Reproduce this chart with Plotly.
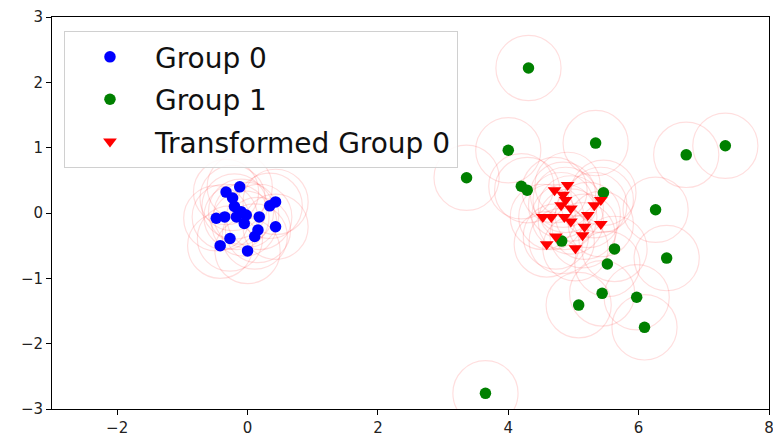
import plotly.graph_objects as go

# Group 0 (blue)
g0_x = [-0.12, -0.33, 0.43, 0.34, -0.20, -0.10, -0.48, -0.35, -0.17, -0.05,
        0.18, 0.43, 0.16, 0.11, -0.27, -0.42, 0.00, -0.02, -0.23]
g0_y = [0.40, 0.32, 0.17, 0.11, 0.10, 0.02, -0.08, -0.06, -0.06, -0.16,
        -0.06, -0.21, -0.26, -0.36, -0.39, -0.50, -0.58, -0.03, 0.23]

# Group 1 (green)
g1_x = [4.31, 5.34, 4.00, 3.36, 4.20, 4.29, 5.46, 6.73, 7.33, 6.26,
        4.82, 5.63, 5.52, 6.43, 5.44, 5.08, 5.97, 6.09, 3.65]
g1_y = [2.22, 1.07, 0.96, 0.54, 0.41, 0.35, 0.31, 0.89, 1.03, 0.05,
        -0.43, -0.55, -0.78, -0.69, -1.23, -1.41, -1.29, -1.75, -2.76]

# Transformed Group 0 (red)
t0_x = [4.91, 4.71, 4.84, 5.42, 5.32, 4.81, 4.96, 4.53, 4.66, 4.86,
        4.96, 5.22, 5.42, 5.17, 5.14, 4.73, 4.59, 5.03, 4.88]
t0_y = [0.43, 0.35, 0.28, 0.20, 0.12, 0.12, 0.07, -0.06, -0.06, -0.06,
        -0.13, -0.03, -0.17, -0.21, -0.34, -0.36, -0.48, -0.54, 0.20]

radius = 0.5

fig = go.Figure()
fig.add_trace(go.Scatter(x=g0_x, y=g0_y, mode="markers", name="Group 0", legendgroup="a",
                         marker=dict(color="#0000ff", size=11.5, symbol="circle")))
fig.add_trace(go.Scatter(x=g1_x, y=g1_y, mode="markers", name="Group 1", legendgroup="b",
                         marker=dict(color="#008000", size=11.5, symbol="circle")))
fig.add_trace(go.Scatter(x=t0_x, y=t0_y, mode="markers", name="Transformed Group 0", legendgroup="c",
                         marker=dict(color="#ff0000", size=12, symbol="triangle-down")))

shapes = []
for xs, ys in ((g0_x, g0_y), (g1_x, g1_y), (t0_x, t0_y)):
    for cx, cy in zip(xs, ys):
        shapes.append(dict(type="circle", xref="x", yref="y",
                           x0=cx - radius, x1=cx + radius,
                           y0=cy - radius, y1=cy + radius,
                           line=dict(color="rgba(255,0,0,0.13)", width=1.2),
                           layer="below"))

fig.update_layout(
    width=773, height=439,
    margin=dict(l=44, r=12, t=9, b=38, autoexpand=False),
    paper_bgcolor="white", plot_bgcolor="white",
    font=dict(family="DejaVu Sans", size=15, color="#222"),
    shapes=shapes,
    showlegend=True,
    legend=dict(x=0.0167, y=0.964, xanchor="left", yanchor="top",
                bgcolor="rgba(255,255,255,0.85)", bordercolor="#d0d0d0", borderwidth=1,
                font=dict(size=28, color="#111"), itemwidth=80,
                traceorder="grouped", tracegroupgap=3),
    xaxis=dict(range=[-3, 8], tickvals=[-2, 0, 2, 4, 6, 8], showgrid=False, zeroline=False,
               showline=True, linecolor="black", linewidth=1, mirror=True,
               ticks="outside", ticklen=5, tickcolor="black"),
    yaxis=dict(range=[-3, 3], tickvals=[-3, -2, -1, 0, 1, 2, 3], showgrid=False, zeroline=False,
               showline=True, linecolor="black", linewidth=1, mirror=True,
               ticks="outside", ticklen=5, tickcolor="black"),
)

fig.write_html("out.html")
